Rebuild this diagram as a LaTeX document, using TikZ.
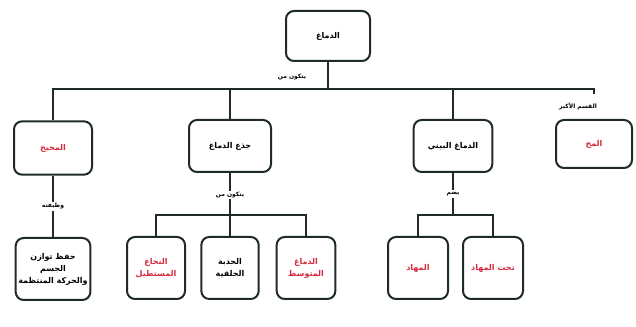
\documentclass[tikz,border=0pt]{standalone}
\usepackage{fontspec}
\newfontfamily\arabicfont[Script=Arabic]{DejaVu Sans}
\TeXXeTstate=1
\definecolor{ln}{HTML}{1E2B28}
\definecolor{rd}{HTML}{D42A3C}
\newcommand{\ar}[1]{\beginR #1\endR}
\begin{document}
\begin{tikzpicture}[x=0.75pt,y=-0.75pt,
  box/.style={draw=ln, line width=1.5pt, rounded corners=6pt, inner sep=1pt,
    font=\arabicfont\bfseries\fontsize{6}{9}\selectfont, align=center},
  redtxt/.style={text=rd},
  lbl/.style={font=\arabicfont\bfseries\fontsize{4.5}{6}\selectfont, inner sep=1pt},
  conn/.style={draw=ln, line width=1.4pt}]
\useasboundingbox (0,0) rectangle (636,327);
% top
\node[box, minimum width=63pt, minimum height=37.5pt] (brain) at (328,36) {\ar{الدماغ}};
% second level
\node[box, redtxt, minimum width=58.5pt, minimum height=40pt] (cbl) at (53,148) {\ar{المخيخ}};
\node[box, minimum width=61.5pt, minimum height=39pt] (stem) at (230,146) {\ar{جذع الدماغ}};
\node[box, minimum width=59pt, minimum height=39pt] (dien) at (453,146) {\ar{الدماغ البيني}};
\node[box, redtxt, minimum width=57pt, minimum height=36pt] (cer) at (594,144) {\ar{المخ}};
% third level
\node[box, minimum width=56pt, minimum height=46.5pt] (func) at (53,269) {\ar{حفظ توازن}\\\ar{الجسم}\\\ar{والحركة المنتظمة}};
\node[box, redtxt, minimum width=43.5pt, minimum height=46.5pt] (med) at (156,268) {\ar{النخاع}\\\ar{المستطيل}};
\node[box, minimum width=43pt, minimum height=46.5pt] (pons) at (230,268) {\ar{الحدبة}\\\ar{الحلقية}};
\node[box, redtxt, minimum width=44pt, minimum height=46.5pt] (mid) at (306,268) {\ar{الدماغ}\\\ar{المتوسط}};
\node[box, redtxt, minimum width=45pt, minimum height=46.5pt] (thal) at (418,268) {\ar{المهاد}};
\node[box, redtxt, minimum width=45pt, minimum height=46.5pt] (hypo) at (493,268) {\ar{تحت المهاد}};
% coordinates
\coordinate (hy) at (328,89);
\coordinate (h2) at (230,215);
\coordinate (h3) at (453,215);
% connectors level 1
\draw[conn] (brain.south) -- (hy);
\draw[conn] (cbl.north) -- (cbl.north |- hy) -- (cer.north |- hy) -- ++(0,5);
\draw[conn] (stem.north) -- (stem.north |- hy);
\draw[conn] (dien.north) -- (dien.north |- hy);
\node[lbl] (l1) at (292,77) {\ar{يتكون من}};
\node[lbl] (l2) at (578,106) {\ar{القسم الأكبر}};
% cerebellum
\draw[conn] (cbl.south) -- node[lbl, fill=white] (l3) {\ar{وظيفته}} (func.north);
% stem
\draw[conn] (stem.south) -- node[lbl, fill=white, pos=0.35] (l4) {\ar{يتكون من}} (pons.north);
\draw[conn] (med.north) |- (h2) -| (mid.north);
% diencephalon
\draw[conn] (dien.south) -- node[lbl, fill=white] (l5) {\ar{يضم}} (h3);
\draw[conn] (thal.north) |- (h3) -| (hypo.north);
\end{tikzpicture}
\end{document}
